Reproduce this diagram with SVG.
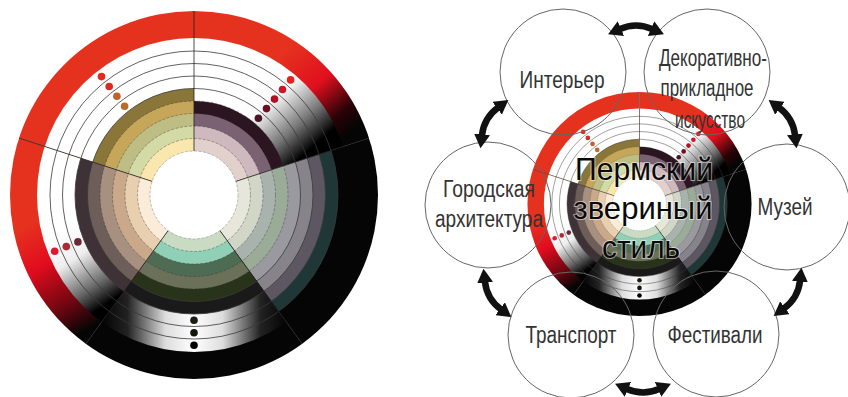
<svg xmlns="http://www.w3.org/2000/svg" xmlns:xlink="http://www.w3.org/1999/xlink" width="848" height="397" viewBox="0 0 848 397">
<style>
.lbl{font-family:"Liberation Sans Narrow","Liberation Sans",Arial,sans-serif;font-size:23px;fill:#333;text-anchor:middle}
.ttl{font-family:"Liberation Sans Narrow","Liberation Sans",Arial,sans-serif;font-size:32px;fill:#0a0a0a;text-anchor:middle;stroke:#fff;stroke-width:2;stroke-opacity:.55;paint-order:stroke}
.node{fill:none;stroke:#666;stroke-width:1}
.arr{fill:none;stroke:#111;stroke-width:6.5;marker-start:url(#ah);marker-end:url(#ah)}
.div{stroke:#222;stroke-width:.8}
.ln{fill:none;stroke:#3a3a3a;stroke-width:.8}
.bd{fill:none;stroke:#333;stroke-width:.7;stroke-dasharray:3 1.5;opacity:.55}
</style>
<defs>
<marker id="ah" markerUnits="userSpaceOnUse" viewBox="0 -8 14 16" refX="1" refY="0" markerWidth="14" markerHeight="16" orient="auto-start-reverse"><path d="M0,-8 L14,0 L0,8 Z" fill="#111"/></marker>
<clipPath id="cA"><path d="M0,0 L-190.2,-61.8 L-146.9,-202.3 L0,-200 Z"/></clipPath>
<clipPath id="cB"><path d="M0,0 L0,-200 L146.9,-202.3 L190.2,-61.8 Z"/></clipPath>
<clipPath id="cC"><path d="M0,0 L190.2,-61.8 L237.8,77.3 L117.6,161.8 Z"/></clipPath>
<clipPath id="cD"><path d="M0,0 L117.6,161.8 L0,250 L-117.6,161.8 Z"/></clipPath>
<clipPath id="cE"><path d="M0,0 L-117.6,161.8 L-237.8,77.3 L-190.2,-61.8 Z"/></clipPath>
<linearGradient id="gRB" gradientUnits="userSpaceOnUse" x1="90" y1="-144" x2="158" y2="-64">
<stop offset="0" stop-color="#e5321f"/><stop offset=".45" stop-color="#e0101e"/><stop offset=".8" stop-color="#2a0206"/><stop offset="1" stop-color="#050505"/>
</linearGradient>
<linearGradient id="gWB" gradientUnits="userSpaceOnUse" x1="61" y1="-115" x2="120" y2="-49">
<stop offset="0" stop-color="#fff"/><stop offset=".3" stop-color="#fafafa"/><stop offset=".7" stop-color="#777"/><stop offset="1" stop-color="#000"/>
</linearGradient>
<linearGradient id="gRE" gradientUnits="userSpaceOnUse" x1="-167" y1="30" x2="-105" y2="134">
<stop offset="0" stop-color="#e5321f"/><stop offset=".35" stop-color="#e20c1e"/><stop offset=".75" stop-color="#6a0610"/><stop offset="1" stop-color="#050505"/>
</linearGradient>
<linearGradient id="gWE" gradientUnits="userSpaceOnUse" x1="-130" y1="35" x2="-83" y2="106">
<stop offset="0" stop-color="#fff"/><stop offset=".35" stop-color="#eee"/><stop offset=".75" stop-color="#666"/><stop offset="1" stop-color="#000"/>
</linearGradient>
<linearGradient id="gWD" gradientUnits="userSpaceOnUse" x1="-95" y1="0" x2="95" y2="0">
<stop offset="0" stop-color="#000"/><stop offset=".15" stop-color="#222"/><stop offset=".35" stop-color="#ddd"/><stop offset=".5" stop-color="#fff"/><stop offset=".65" stop-color="#ddd"/><stop offset=".85" stop-color="#222"/><stop offset="1" stop-color="#000"/>
</linearGradient>
<g id="wheel">
<g clip-path="url(#cA)">
<circle r="184" fill="#e5321f"/><circle r="157" fill="#fff"/>
<circle r="106.5" fill="#8a7639"/><circle r="94" fill="#c6a75a"/><circle r="81.5" fill="#bdbd84"/><circle r="69" fill="#d3daa6"/><circle r="56.5" fill="#f9e7ae"/>
</g>
<g clip-path="url(#cB)">
<circle r="184" fill="url(#gRB)"/><circle r="157" fill="url(#gWB)"/>
<circle r="94" fill="#2b1521"/><circle r="81.5" fill="#7b6272"/><circle r="69" fill="#cdb9be"/><circle r="56.5" fill="#e2d0cc"/>
</g>
<g clip-path="url(#cC)">
<circle r="184" fill="#050505"/>
<circle r="144" fill="#1f3737"/><circle r="131.5" fill="#5c5761"/><circle r="119" fill="#86838b"/><circle r="106.5" fill="#9a999f"/><circle r="94" fill="#9aab98"/><circle r="81.5" fill="#a9b3ad"/><circle r="69" fill="#d2d6c6"/><circle r="56.5" fill="#e6e7da"/>
</g>
<g clip-path="url(#cD)">
<circle r="184" fill="#050505"/><circle r="157" fill="url(#gWD)"/>
<circle r="119" fill="#1a1a1a"/><circle r="106.5" fill="#29331a"/><circle r="94" fill="#6b7059"/><circle r="81.5" fill="#4e6c53"/><circle r="69" fill="#8fd0b7"/><circle r="56.5" fill="#c9dcc3"/>
</g>
<g clip-path="url(#cE)">
<circle r="184" fill="url(#gRE)"/><circle r="157" fill="url(#gWE)"/>
<circle r="119" fill="#3e3236"/><circle r="106.5" fill="#6e5e5a"/><circle r="94" fill="#a89080"/><circle r="81.5" fill="#c9a98a"/><circle r="69" fill="#e8cfb0"/><circle r="56.5" fill="#fbecd9"/>
</g>
<circle class="bd" r="56.5"/><circle class="bd" r="69"/><circle class="bd" r="81.5"/><circle class="bd" r="94"/>
<circle class="ln" r="106.5"/><circle class="ln" r="119"/><circle class="ln" r="131.5"/><circle class="ln" r="144"/>
<line class="div" x1="0" y1="-44" x2="0" y2="-184"/>
<line class="div" x1="41.8" y1="-13.6" x2="175" y2="-56.9"/>
<line class="div" x1="25.9" y1="35.6" x2="108.2" y2="148.9"/>
<line class="div" x1="-25.9" y1="35.6" x2="-108.2" y2="148.9"/>
<line class="div" x1="-41.8" y1="-13.6" x2="-175" y2="-56.9"/>
<circle cx="-92.5" cy="-118.4" r="3.8" fill="#e8281e"/>
<circle cx="-84.8" cy="-108.5" r="3.8" fill="#d82a22"/>
<circle cx="-77.1" cy="-98.7" r="3.8" fill="#c0602a"/>
<circle cx="-69.4" cy="-88.8" r="3.8" fill="#b86a28"/>
<circle cx="96.6" cy="-115.1" r="3.8" fill="#e82020"/>
<circle cx="88.5" cy="-105.5" r="3.8" fill="#d01428"/>
<circle cx="80.5" cy="-95.9" r="3.8" fill="#b01020"/>
<circle cx="72.5" cy="-86.4" r="3.8" fill="#6a1020"/>
<circle cx="64.4" cy="-76.8" r="3.8" fill="#4a1424"/>
<circle cx="0" cy="125.25" r="3.8" fill="#1a2010"/>
<circle cx="0" cy="137.75" r="3.8" fill="#101808"/>
<circle cx="0" cy="150.25" r="3.8" fill="#000"/>
<circle cx="-139.3" cy="56.3" r="3.8" fill="#e01830"/>
<circle cx="-127.7" cy="51.6" r="3.8" fill="#b02830"/>
<circle cx="-116.1" cy="46.9" r="3.8" fill="#6a2a35"/>
<circle r="44" fill="#fff" stroke="#555" stroke-width=".7" stroke-dasharray="3 1.5" stroke-opacity=".5"/>
</g>
<path id="arrow" class="arr" d="M-16,-7 Q0,-14 16,-7"/>
</defs>
<rect width="848" height="397" fill="#fff"/>
<g id="wheel-left"><use href="#wheel" transform="translate(194,195)"/></g>
<g id="wheel-center"><use href="#wheel" transform="translate(639.5,204) scale(0.609)"/></g>
<g id="node-interior"><circle class="node" cx="563" cy="72" r="63"/><text class="lbl" x="562" y="88" textLength="85" lengthAdjust="spacingAndGlyphs">Интерьер</text></g>
<g id="node-decorative"><circle class="node" cx="707" cy="72" r="63"/>
<text class="lbl" x="713" y="66" textLength="108" lengthAdjust="spacingAndGlyphs">Декоративно-</text>
<text class="lbl" x="707" y="96" textLength="93" lengthAdjust="spacingAndGlyphs">прикладное</text>
<text class="lbl" x="710" y="128" textLength="70" lengthAdjust="spacingAndGlyphs">искусство</text></g>
<g id="node-museum"><circle class="node" cx="787" cy="207" r="63"/><text class="lbl" x="785" y="215" textLength="55" lengthAdjust="spacingAndGlyphs">Музей</text></g>
<g id="node-festivals"><circle class="node" cx="716" cy="334" r="63"/><text class="lbl" x="715" y="343" textLength="95" lengthAdjust="spacingAndGlyphs">Фестивали</text></g>
<g id="node-transport"><circle class="node" cx="571" cy="335" r="63"/><text class="lbl" x="571" y="343" textLength="91" lengthAdjust="spacingAndGlyphs">Транспорт</text></g>
<g id="node-city"><circle class="node" cx="488" cy="205" r="63"/>
<text class="lbl" x="489" y="197" textLength="92" lengthAdjust="spacingAndGlyphs">Городская</text>
<text class="lbl" x="489" y="227" textLength="108" lengthAdjust="spacingAndGlyphs">архитектура</text></g>
<g id="connectors">
<use href="#arrow" transform="translate(636,36)"/>
<use href="#arrow" transform="translate(781,125) rotate(60)"/>
<use href="#arrow" transform="translate(786,291) rotate(120)"/>
<use href="#arrow" transform="translate(643,382) rotate(180)"/>
<use href="#arrow" transform="translate(499,292) rotate(240)"/>
<use href="#arrow" transform="translate(496,125) rotate(300)"/>
</g>
<g id="node-title">
<text class="ttl" x="644" y="180" textLength="138" lengthAdjust="spacingAndGlyphs">Пермский</text>
<text class="ttl" x="643" y="219" textLength="139" lengthAdjust="spacingAndGlyphs">звериный</text>
<text class="ttl" x="641" y="258" textLength="78" lengthAdjust="spacingAndGlyphs">стиль</text>
</g>
</svg>
